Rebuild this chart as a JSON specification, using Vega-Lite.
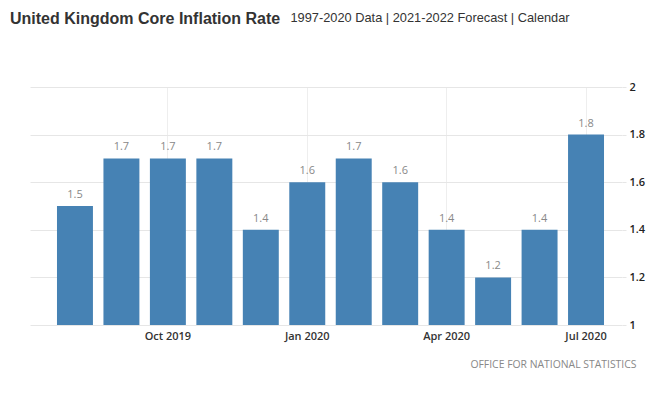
{
  "$schema": "https://vega.github.io/schema/vega-lite/v6.json",
  "width": 592,
  "height": 238,
  "autosize": "none",
  "padding": {"left": 30, "top": 87, "right": 43, "bottom": 68},
  "background": "#ffffff",
  "title": {
    "text": "United Kingdom Core Inflation Rate",
    "anchor": "start",
    "frame": "group",
    "font": "Liberation Sans",
    "fontSize": 16,
    "fontWeight": "bold",
    "color": "#333333",
    "dx": -20,
    "offset": -24,
    "baseline": "middle"
  },
  "data": {
    "values": [
      {"month": "Aug 2019", "rate": 1.5},
      {"month": "Sep 2019", "rate": 1.7},
      {"month": "Oct 2019", "rate": 1.7},
      {"month": "Nov 2019", "rate": 1.7},
      {"month": "Dec 2019", "rate": 1.4},
      {"month": "Jan 2020", "rate": 1.6},
      {"month": "Feb 2020", "rate": 1.7},
      {"month": "Mar 2020", "rate": 1.6},
      {"month": "Apr 2020", "rate": 1.4},
      {"month": "May 2020", "rate": 1.2},
      {"month": "Jun 2020", "rate": 1.4},
      {"month": "Jul 2020", "rate": 1.8}
    ]
  },
  "encoding": {
    "x": {
      "field": "month",
      "type": "ordinal",
      "sort": null,
      "scale": {"paddingInner": 0.226, "paddingOuter": 0.484, "align": 0.6},
      "axis": {
        "values": ["Oct 2019", "Jan 2020", "Apr 2020", "Jul 2020"],
        "labelAngle": 0,
        "labelFont": "Open Sans",
        "labelFontSize": 11,
        "labelFontWeight": 600,
        "labelColor": "#333333",
        "labelPadding": 5,
        "ticks": false,
        "domain": false,
        "grid": true,
        "bandPosition": 0.5,
        "gridColor": "#eeeeee",
        "title": "1997-2020 Data | 2021-2022 Forecast | Calendar",
        "titleFont": "Liberation Sans",
        "titleFontSize": 12.8,
        "titleFontWeight": "normal",
        "titleColor": "#333333",
        "titleAlign": "left",
        "titleBaseline": "middle",
        "titleX": 260,
        "titleY": -308
      }
    },
    "y": {
      "field": "rate",
      "type": "quantitative",
      "scale": {"domain": [1, 2], "zero": false, "nice": false},
      "axis": {
        "orient": "right",
        "values": [1, 1.2, 1.4, 1.6, 1.8, 2],
        "format": "~g",
        "labelFont": "Open Sans",
        "labelFontSize": 11,
        "labelFontWeight": 600,
        "labelColor": "#222222",
        "labelPadding": 3,
        "tickSize": 4,
        "tickColor": "#e6e6e6",
        "domain": false,
        "grid": true,
        "gridColor": "#e6e6e6",
        "title": "OFFICE FOR NATIONAL STATISTICS",
        "titleFont": "Open Sans",
        "titleFontSize": 10.4,
        "titleFontWeight": "normal",
        "titleColor": "#888888",
        "titleAngle": 0,
        "titleAlign": "right",
        "titleBaseline": "middle",
        "titleX": 14,
        "titleY": 277
      }
    }
  },
  "layer": [
    {
      "mark": {"type": "bar", "color": "#4682b4"},
      "encoding": {"y2": {"datum": 1}}
    },
    {
      "mark": {"type": "text", "baseline": "bottom", "dy": -6, "font": "Open Sans", "fontSize": 11, "color": "#888888"},
      "encoding": {"text": {"field": "rate", "type": "quantitative", "format": ".1f"}}
    }
  ],
  "config": {"view": {"stroke": null}}
}
